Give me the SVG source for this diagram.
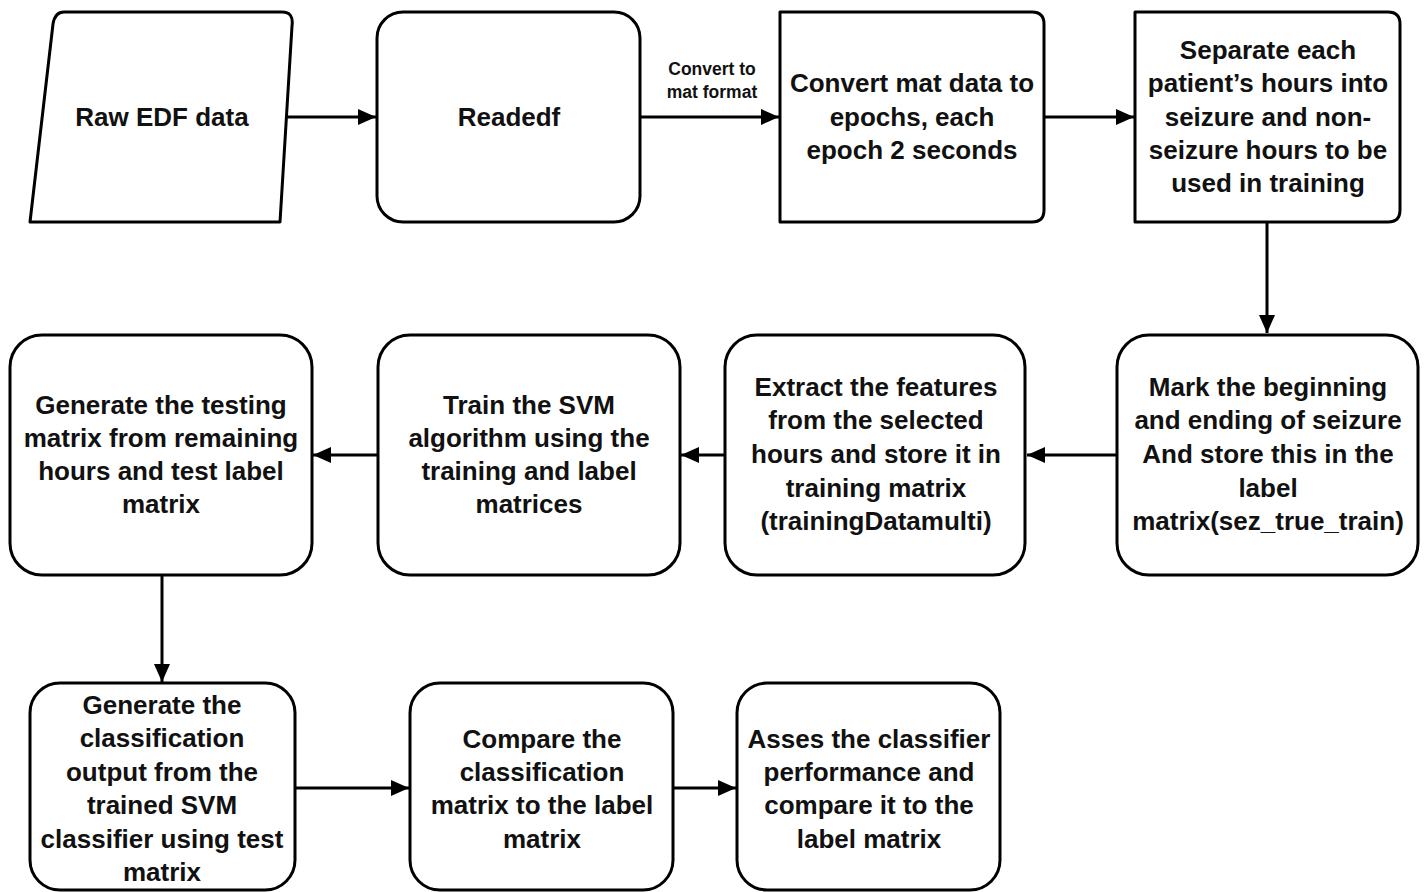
<svg xmlns="http://www.w3.org/2000/svg" width="1427" height="892" viewBox="0 0 1427 892">
<defs>
<marker id="ah" markerUnits="userSpaceOnUse" markerWidth="20" markerHeight="18" refX="18" refY="8" orient="auto">
<path d="M0,0 L18,8 L0,16 Z" fill="#000"/>
</marker>
<style>
.box{fill:#fff;stroke:#000;stroke-width:3;stroke-linejoin:round}
.t{font-family:"Liberation Sans",Arial,sans-serif;font-size:26px;font-weight:bold;fill:#111;text-anchor:middle;dominant-baseline:central}
.lbl{font-family:"Liberation Sans",Arial,sans-serif;font-size:17.5px;font-weight:bold;fill:#111;text-anchor:middle;dominant-baseline:central}
.c{fill:none;stroke:#000;stroke-width:3;marker-end:url(#ah)}
</style>
</defs>
<rect width="1427" height="892" fill="#fff"/>
<g id="connectors">
<line class="c" x1="282" y1="117" x2="376" y2="117"/>
<line class="c" x1="640" y1="117" x2="779" y2="117"/>
<line class="c" x1="1044" y1="117" x2="1134" y2="117"/>
<line class="c" x1="1267" y1="222" x2="1267" y2="333"/>
<line class="c" x1="1117" y1="455" x2="1027" y2="455"/>
<line class="c" x1="725" y1="455" x2="681" y2="455"/>
<line class="c" x1="378" y1="455" x2="313" y2="455"/>
<line class="c" x1="162" y1="575" x2="162" y2="682"/>
<line class="c" x1="295" y1="788" x2="409" y2="788"/>
<line class="c" x1="673" y1="788" x2="736" y2="788"/>
<text class="lbl" x="712" y="69">Convert to</text>
<text class="lbl" x="712" y="92">mat format</text>
</g>
<g id="raw">
<path class="box" d="M64,12 H282 Q294,12 292,26 L280,222 H30 L53,24 Q55,12 64,12 Z"/>
<text class="t" x="162" y="117">Raw EDF data</text>
</g>
<g id="readedf">
<rect class="box" x="377" y="12" width="263" height="210" rx="26"/>
<text class="t" x="509" y="117">Readedf</text>
</g>
<g id="epochs">
<path class="box" d="M780,12 H1032 Q1044,12 1044,24 V210 Q1044,222 1032,222 H780 Z"/>
<text class="t" x="912" y="83">Convert mat data to</text>
<text class="t" x="912" y="117">epochs, each</text>
<text class="t" x="912" y="150">epoch 2 seconds</text>
</g>
<g id="separate">
<path class="box" d="M1135,12 H1388 Q1400,12 1400,24 V210 Q1400,222 1388,222 H1135 Z"/>
<text class="t" x="1268" y="50">Separate each</text>
<text class="t" x="1268" y="83">patient’s hours into</text>
<text class="t" x="1268" y="117">seizure and non-</text>
<text class="t" x="1268" y="150">seizure hours to be</text>
<text class="t" x="1268" y="183">used in training</text>
</g>
<g id="mark">
<rect class="box" x="1117" y="335" width="301" height="240" rx="32"/>
<text class="t" x="1268" y="387">Mark the beginning</text>
<text class="t" x="1268" y="420">and ending of seizure</text>
<text class="t" x="1268" y="454">And store this in the</text>
<text class="t" x="1268" y="488">label</text>
<text class="t" x="1268" y="521">matrix(sez_true_train)</text>
</g>
<g id="extract">
<rect class="box" x="725" y="335" width="300" height="240" rx="32"/>
<text class="t" x="876" y="387">Extract the features</text>
<text class="t" x="876" y="420">from the selected</text>
<text class="t" x="876" y="454">hours and store it in</text>
<text class="t" x="876" y="488">training matrix</text>
<text class="t" x="876" y="521">(trainingDatamulti)</text>
</g>
<g id="train">
<rect class="box" x="378" y="335" width="302" height="240" rx="32"/>
<text class="t" x="529" y="405">Train the SVM</text>
<text class="t" x="529" y="438">algorithm using the</text>
<text class="t" x="529" y="471">training and label</text>
<text class="t" x="529" y="504">matrices</text>
</g>
<g id="testing">
<rect class="box" x="10" y="335" width="302" height="240" rx="32"/>
<text class="t" x="161" y="405">Generate the testing</text>
<text class="t" x="161" y="438">matrix from remaining</text>
<text class="t" x="161" y="471">hours and test label</text>
<text class="t" x="161" y="504">matrix</text>
</g>
<g id="classify">
<rect class="box" x="30" y="683" width="265" height="207" rx="30"/>
<text class="t" x="162" y="705">Generate the</text>
<text class="t" x="162" y="738">classification</text>
<text class="t" x="162" y="772">output from the</text>
<text class="t" x="162" y="805">trained SVM</text>
<text class="t" x="162" y="839">classifier using test</text>
<text class="t" x="162" y="872">matrix</text>
</g>
<g id="compare">
<rect class="box" x="410" y="683" width="263" height="207" rx="30"/>
<text class="t" x="542" y="739">Compare the</text>
<text class="t" x="542" y="772">classification</text>
<text class="t" x="542" y="805">matrix to the label</text>
<text class="t" x="542" y="839">matrix</text>
</g>
<g id="assess">
<rect class="box" x="737" y="683" width="263" height="207" rx="30"/>
<text class="t" x="869" y="739">Asses the classifier</text>
<text class="t" x="869" y="772">performance and</text>
<text class="t" x="869" y="805">compare it to the</text>
<text class="t" x="869" y="839">label matrix</text>
</g>
</svg>
